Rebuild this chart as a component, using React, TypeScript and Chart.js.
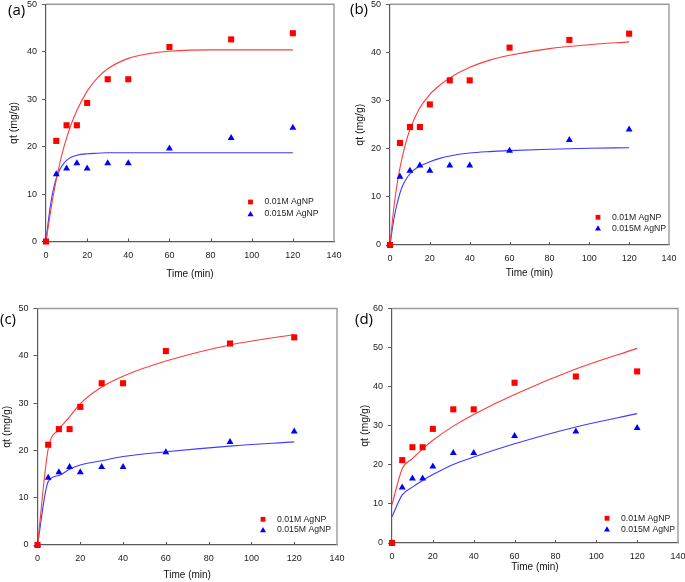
import React, { useEffect, useRef } from 'react';
import { Chart, registerables } from 'chart.js';

Chart.register(...registerables);

// ---------------- data ----------------
const TIME_MIN = [0, 5, 10, 15, 20, 30, 40, 60, 90, 120];
const QT_001M = [0, 21.2, 24.5, 24.5, 29.2, 34.2, 34.2, 41.0, 42.6, 43.9];
const QT_0015M = [0, 14.2, 15.4, 16.5, 15.4, 16.5, 16.5, 19.6, 21.8, 24.0];
const QT_0015M_D = [0, 14.2, 16.5, 16.5, 19.6, 23.0, 23.0, 27.4, 28.5, 29.4];

const FIT_TIME_DENSE = [0, 2, 4, 6, 8, 10, 12, 15, 20, 25, 30, 40, 50, 60, 80, 100, 120];
const FIT_A_001M = [0, 5.7, 10.8, 15.1, 18.8, 21.8, 24.4, 27.6, 31.7, 34.5, 36.4, 38.6, 39.6, 40.1, 40.4, 40.4, 40.4];
const FIT_A_0015M = [0, 7.2, 11.8, 14.5, 16.1, 17.1, 17.7, 18.2, 18.5, 18.6, 18.7, 18.7, 18.7, 18.7, 18.7, 18.7, 18.7];
const FIT_B_001M = [0, 8.0, 13.8, 18.0, 21.3, 24.0, 26.0, 28.5, 31.3, 33.2, 34.7, 36.9, 38.4, 39.4, 40.8, 41.6, 42.2];
const FIT_B_0015M = [0, 5.5, 9.3, 12.0, 13.6, 14.8, 15.6, 16.4, 17.3, 18.0, 18.5, 19.1, 19.4, 19.6, 19.9, 20.1, 20.2];
const FIT_C_001M = [0, 20.3, 24.4, 27.1, 29.9, 33.4, 35.7, 38.9, 42.3, 44.5];
const FIT_C_0015M = [0, 13.4, 14.7, 16.0, 16.9, 17.8, 18.7, 19.7, 20.9, 21.8];
const FIT_D_001M = [9.8, 19.0, 21.6, 24.1, 26.3, 29.9, 32.9, 38.0, 44.5, 49.8];
const FIT_D_0015M = [6.7, 12.3, 14.3, 16.0, 17.5, 20.1, 22.0, 25.4, 29.7, 33.1];

const X_TICK_STEP = 20;
const X_MAX = 140;
const Y_MAX = [50, 50, 50, 60];
const SERIES_NAMES = ['0.01M AgNP', '0.015M AgNP'];
const PANEL_NAMES = ['(a)', '(b)', '(c)', '(d)'];
const X_TITLE = 'Time (min)';
const Y_TITLE = 'qt (mg/g)';

// ---------------- styles / layout ----------------
const W = 685;
const H = 582;
const RED = '#ff0000';
const BLUE = '#0000ff';
const RED_LINE = '#ff3b3b';
const BLUE_LINE = '#3b3bff';
const FONT = "'Liberation Sans', Arial, sans-serif";

const PANELS = [
  { L: 46, T: 4, R: 334, B: 241.5, yTitleGap: 32, xTitleGap: 33, lg: { dx: 83.5, dy1: 39.5, dy2: 27.5 }, label: { x: 8, y: 9 },
    fitT: FIT_TIME_DENSE, fitRed: FIT_A_001M, fitBlue: FIT_A_0015M, blue: QT_0015M },
  { L: 390, T: 4, R: 669, B: 245, yTitleGap: 29.5, xTitleGap: 28, lg: { dx: 71, dy1: 27.7, dy2: 16.7 }, label: { x: 350, y: 8 },
    fitT: FIT_TIME_DENSE, fitRed: FIT_B_001M, fitBlue: FIT_B_0015M, blue: QT_0015M },
  { L: 37.5, T: 308.5, R: 337, B: 545, yTitleGap: 30.5, xTitleGap: 30, lg: { dx: 74, dy1: 25.7, dy2: 15 }, label: { x: 0, y: 318 },
    fitT: TIME_MIN, fitRed: FIT_C_001M, fitBlue: FIT_C_0015M, blue: QT_0015M },
  { L: 392, T: 308.5, R: 678, B: 543, yTitleGap: 27, xTitleGap: 24, lg: { dx: 71, dy1: 24.7, dy2: 13.7 }, label: { x: 355, y: 318 },
    fitT: TIME_MIN, fitRed: FIT_D_001M, fitBlue: FIT_D_0015M, blue: QT_0015M_D },
];

const TICK_FONT = { family: FONT, size: 9 };
const LEGEND_FONT_SIZE = 8.7;
const YTITLE_FONT = { family: FONT, size: 10.5 };
const XTITLE_FONT = { family: FONT, size: 10 };

function toPts(xs: number[], ys: number[]) {
  return xs.map((x, i) => ({ x, y: ys[i] }));
}

function drawRect(ctx: CanvasRenderingContext2D, x: number, y: number, s: number, c: string) {
  ctx.fillStyle = c;
  ctx.fillRect(x - s / 2, y - s / 2, s, s);
}
function drawTri(ctx: CanvasRenderingContext2D, x: number, y: number, r: number, c: string) {
  ctx.fillStyle = c;
  ctx.beginPath();
  ctx.moveTo(x, y - r);
  ctx.lineTo(x + r * 0.866, y + r * 0.5);
  ctx.lineTo(x - r * 0.866, y + r * 0.5);
  ctx.closePath();
  ctx.fill();
}

function Panel({ idx }: { idx: number }) {
  const ref = useRef<HTMLCanvasElement>(null);
  useEffect(() => {
    const p = PANELS[idx];
    const yW = p.yTitleGap + (YTITLE_FONT.size * 1.2) / 2;
    const xH = p.xTitleGap + (XTITLE_FONT.size * 1.2) / 2;
    const overlay = {
      id: 'overlay' + idx,
      afterDraw(chart: any) {
        const ctx = chart.ctx as CanvasRenderingContext2D;
        const a = chart.chartArea;
        const xs = chart.scales.x;
        ctx.save();
        // top / right frame
        ctx.strokeStyle = '#9a9a9a';
        ctx.lineWidth = 1.4;
        ctx.beginPath();
        ctx.moveTo(a.left, a.top);
        ctx.lineTo(a.right, a.top);
        ctx.lineTo(a.right, a.bottom);
        ctx.stroke();
        // inward x ticks
        ctx.strokeStyle = '#555';
        ctx.lineWidth = 1;
        for (let v = X_TICK_STEP; v < X_MAX; v += X_TICK_STEP) {
          const px = Math.round(xs.getPixelForValue(v)) + 0.5;
          ctx.beginPath();
          ctx.moveTo(px, a.bottom);
          ctx.lineTo(px, a.bottom - 3);
          ctx.stroke();
        }
        // legend
        const mx = a.right - p.lg.dx;
        const y1 = a.bottom - p.lg.dy1;
        const y2 = a.bottom - p.lg.dy2;
        drawRect(ctx, mx, y1, 4.8, RED);
        drawTri(ctx, mx, y2 + 0.5, 3.5, BLUE);
        ctx.fillStyle = '#222';
        ctx.font = `${LEGEND_FONT_SIZE}px ${FONT}`;
        ctx.textAlign = 'left';
        ctx.textBaseline = 'middle';
        ctx.fillText(SERIES_NAMES[0], mx + 14, y1);
        ctx.fillText(SERIES_NAMES[1], mx + 14, y2);
        ctx.restore();
      },
    };
    const chart = new Chart(ref.current as HTMLCanvasElement, {
      type: 'scatter',
      data: {
        datasets: [
          { label: SERIES_NAMES[0], data: toPts(TIME_MIN, QT_001M), pointStyle: 'rect', pointRadius: 4.3,
            backgroundColor: RED, borderWidth: 0, clip: false } as any,
          { label: SERIES_NAMES[1], data: toPts(TIME_MIN, p.blue), pointStyle: 'triangle', pointRadius: 4,
            backgroundColor: BLUE, borderWidth: 0, clip: false } as any,
          { label: 'fit1', data: toPts(p.fitT, p.fitRed), showLine: true, pointRadius: 0, borderColor: RED_LINE,
            borderWidth: 1.1, cubicInterpolationMode: 'monotone' } as any,
          { label: 'fit2', data: toPts(p.fitT, p.fitBlue), showLine: true, pointRadius: 0, borderColor: BLUE_LINE,
            borderWidth: 1.1, cubicInterpolationMode: 'monotone' } as any,
        ],
      },
      options: {
        responsive: false,
        animation: false,
        events: [],
        devicePixelRatio: 1,
        layout: { padding: { left: p.L - yW, top: p.T, right: W - p.R, bottom: H - p.B - xH } },
        plugins: { legend: { display: false }, tooltip: { enabled: false }, title: { display: false } },
        scales: {
          x: {
            type: 'linear', min: 0, max: X_MAX,
            ticks: { stepSize: X_TICK_STEP, font: TICK_FONT, color: '#222', padding: 8.5, maxRotation: 0 },
            grid: { display: false, drawTicks: false },
            border: { display: true, color: '#5a5a5a', width: 1.2 },
            title: { display: true, text: X_TITLE, font: XTITLE_FONT, color: '#111', padding: 0 },
            afterFit: (s: any) => { s.height = xH; s.paddingLeft = 0; s.paddingRight = 0; },
          },
          y: {
            type: 'linear', min: 0, max: Y_MAX[idx],
            ticks: { stepSize: 10, font: TICK_FONT, color: '#222', padding: 5 },
            grid: { display: true, drawOnChartArea: false, drawTicks: true, tickLength: 4, color: '#5a5a5a' },
            border: { display: true, color: '#5a5a5a', width: 1.2 },
            title: { display: true, text: Y_TITLE, font: YTITLE_FONT, color: '#111', padding: 0 },
            afterFit: (s: any) => { s.width = yW; s.paddingTop = 0; s.paddingBottom = 0; },
          },
        },
      } as any,
      plugins: [overlay],
    });
    return () => chart.destroy();
  }, [idx]);
  return (
    <canvas ref={ref} width={W} height={H}
      style={{ position: 'absolute', left: 0, top: 0, width: W, height: H }} />
  );
}

export default function App() {
  return (
    <div style={{ position: 'absolute', left: 0, top: 0, width: W, height: H, background: '#fff', overflow: 'hidden' }}>
      {PANELS.map((_, i) => <Panel key={i} idx={i} />)}
      {PANELS.map((p, i) => (
        <div key={'l' + i} style={{ position: 'absolute', left: p.label.x, top: p.label.y - 9, fontFamily: "'Open Sans', 'Liberation Sans', sans-serif",
          fontSize: 15, lineHeight: '18px', color: '#000', whiteSpace: 'nowrap' }}>{PANEL_NAMES[i]}</div>
      ))}
    </div>
  );
}
